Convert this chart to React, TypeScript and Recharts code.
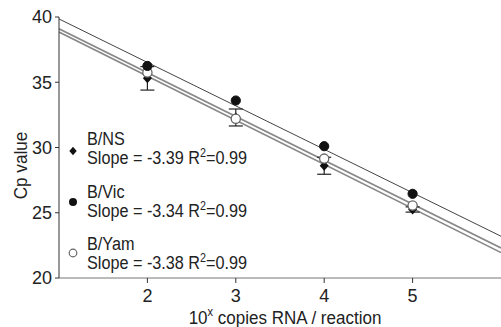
import React from "react";
import {
  ComposedChart,
  Scatter,
  Line,
  XAxis,
  YAxis,
  ErrorBar,
  Label,
} from "recharts";

const FONT = '"Liberation Sans", Arial, sans-serif';

// log10 copies per reaction
const logCopies = [2, 3, 4, 5];

// Cp values
const nsCp = [35.3, 32.3, 28.6, 25.25];
const nsErr = [0.9, 0.65, 0.65, 0.2];
const vicCp = [36.25, 33.6, 30.1, 26.45];
const yamCp = [35.75, 32.2, 29.15, 25.55];

// regression line ends (x = 1 and x = 6)
const lineX = [1, 6];
const nsLine = [38.85, 21.95];
const vicLine = [39.85, 23.2];
const yamLine = [39.1, 22.3];

const yTicks = [20, 25, 30, 35, 40];

const toPoints = (ys: number[], errs?: number[]) =>
  logCopies.map((x, i) => ({ x, y: ys[i], err: errs ? errs[i] : 0 }));
const toLine = (ys: number[]) => lineX.map((x, i) => ({ x, y: ys[i] }));

const Diamond = (props: any) => {
  const { cx, cy } = props;
  return (
    <path
      d={`M${cx},${cy - 5} L${cx + 4.5},${cy} L${cx},${cy + 5} L${cx - 4.5},${cy} Z`}
      fill="#111"
    />
  );
};

const FilledDot = (props: any) => (
  <circle cx={props.cx} cy={props.cy} r={4.6} fill="#111" stroke="#111" />
);

const OpenDot = (props: any) => (
  <circle cx={props.cx} cy={props.cy} r={4.6} fill="#fff" stroke="#666" strokeWidth={1.3} />
);

const XTitle = (props: any) => {
  const { viewBox } = props;
  const cx = viewBox.x + viewBox.width / 2 + 5;
  const y = viewBox.y + 45.5;
  return (
    <text
      transform={`translate(${cx},${y}) scale(0.92,1)`}
      textAnchor="middle"
      fontFamily={FONT}
      fontSize={18.5}
      fill="#222"
    >
      10
      <tspan dy={-8} fontSize={12}>x</tspan>
      <tspan dy={8}> copies RNA / reaction</tspan>
    </text>
  );
};

const YTitle = (props: any) => {
  const { viewBox } = props;
  const cy = viewBox.y + viewBox.height / 2 + 18;
  return (
    <text
      transform={`translate(27,${cy}) rotate(-90) scale(0.9,1)`}
      textAnchor="middle"
      fontFamily={FONT}
      fontSize={19}
      fill="#222"
    >
      Cp value
    </text>
  );
};

const LegendRow = ({
  top,
  markerTop,
  marker,
  name,
  slope,
}: {
  top: number;
  markerTop: number;
  marker: React.ReactNode;
  name: string;
  slope: string;
}) => (
  <div style={{ position: "absolute", left: 60, top, fontFamily: FONT, fontSize: 18, color: "#222", lineHeight: "19px" }}>
    <svg width={16} height={16} style={{ position: "absolute", left: 5, top: markerTop }}>
      {marker}
    </svg>
    <div style={{ marginLeft: 27, transform: "scaleX(0.9)", transformOrigin: "left", whiteSpace: "nowrap" }}>
      <div>{name}</div>
      <div>
        Slope = {slope} R<sup style={{ fontSize: 12, verticalAlign: "7px", lineHeight: 0 }}>2</sup>=0.99
      </div>
    </div>
  </div>
);

export default function App() {
  return (
    <div style={{ position: "absolute", left: 0, top: 0, width: 501, height: 327, background: "#fff" }}>
      <ComposedChart
        width={501}
        height={327}
        margin={{ top: 17, right: 0, left: 0, bottom: 0 }}
      >
        <XAxis
          type="number"
          dataKey="x"
          domain={[1, 6]}
          ticks={logCopies}
          height={49}
          stroke="#777"
          tick={{ fill: "#222", fontSize: 18, fontFamily: FONT }}
          tickLine={{ stroke: "#333" }}
          tickSize={5}
          tickMargin={6}
          allowDataOverflow
        >
          <Label content={<XTitle />} />
        </XAxis>
        <YAxis
          type="number"
          dataKey="y"
          domain={[20, 40]}
          ticks={yTicks}
          width={59}
          stroke="#333"
          tick={{ fill: "#222", fontSize: 18, fontFamily: FONT }}
          tickSize={4}
          tickMargin={3}
          allowDataOverflow
        >
          <Label content={<YTitle />} />
        </YAxis>
        <Line data={toLine(vicLine)} dataKey="y" stroke="#444" strokeWidth={1} dot={false} isAnimationActive={false} />
        <Line data={toLine(yamLine)} dataKey="y" stroke="#888" strokeWidth={1.6} dot={false} isAnimationActive={false} />
        <Line data={toLine(nsLine)} dataKey="y" stroke="#888" strokeWidth={1.6} dot={false} isAnimationActive={false} />
        <Scatter data={toPoints(nsCp, nsErr)} shape={<Diamond />} isAnimationActive={false}>
          <ErrorBar dataKey="err" direction="y" width={7} stroke="#222" strokeWidth={1.2} />
        </Scatter>
        <Scatter data={toPoints(yamCp)} shape={<OpenDot />} isAnimationActive={false} />
        <Scatter data={toPoints(vicCp)} shape={<FilledDot />} isAnimationActive={false} />
      </ComposedChart>
      <LegendRow
        top={130}
        markerTop={13}
        name="B/NS"
        slope="-3.39"
        marker={<path d="M8,3.8 L11.7,8 L8,12.2 L4.3,8 Z" fill="#111" />}
      />
      <LegendRow
        top={183}
        markerTop={11}
        name="B/Vic"
        slope="-3.34"
        marker={<circle cx={8} cy={8} r={4} fill="#111" />}
      />
      <LegendRow
        top={235}
        markerTop={10}
        name="B/Yam"
        slope="-3.38"
        marker={<circle cx={8} cy={8} r={3.8} fill="#fff" stroke="#666" strokeWidth={1.2} />}
      />
    </div>
  );
}
